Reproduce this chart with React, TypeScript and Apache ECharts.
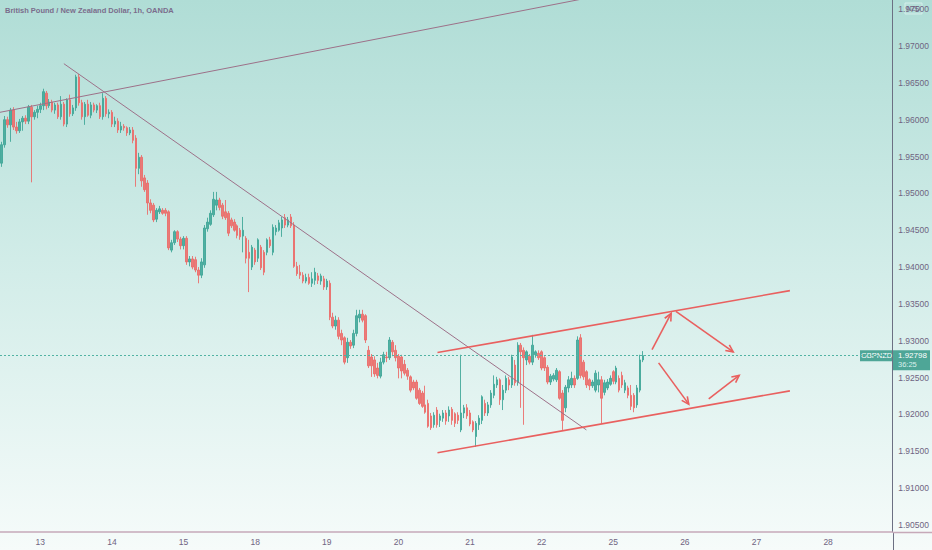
import React, { useEffect, useRef } from "react";
import * as echarts from "echarts";

// ---- axis / categories ----
const DAYS = ["12", "13", "14", "15", "18", "19", "20", "21", "22", "25", "26", "27", "28", "29"];
const FIRST_HOUR = 11; // first candle: day 12, 11:00
const SLOT_COUNT = 299; // hourly slots shown on the time axis (incl. empty future space)

// ---- price scale ----
const Y_MIN = 1.90405;
const Y_MAX = 1.97624;
const TICK_STEP = 0.005;

// ---- quote ----
const TITLE = "British Pound / New Zealand Dollar, 1h, OANDA";
const SYMBOL = "GBPNZD";
const QUOTE_CCY = "NZD";
const LAST_PRICE = 1.92798;
const COUNTDOWN = "36:25";

// ---- hourly candles: [open, close, low, high] ----
const CANDLES_12 = [
  [1.9541, 1.9566, 1.9536, 1.957], [1.9566, 1.96, 1.9562, 1.9605], [1.96, 1.9593, 1.9589, 1.9604],
  [1.9593, 1.9613, 1.957, 1.9616], [1.9613, 1.959, 1.9586, 1.9617], [1.959, 1.9585, 1.9581, 1.9597],
  [1.9585, 1.9597, 1.9582, 1.9601], [1.9597, 1.9602, 1.9585, 1.9605], [1.9602, 1.9598, 1.9594, 1.9606],
  [1.9598, 1.9617, 1.9594, 1.962], [1.9617, 1.9604, 1.9515, 1.962], [1.9604, 1.961, 1.96, 1.9613],
  [1.961, 1.9614, 1.9602, 1.9619],
];
const CANDLES_13 = [
  [1.9614, 1.9619, 1.9609, 1.9623], [1.9619, 1.9638, 1.9613, 1.9642], [1.9636, 1.9619, 1.9614, 1.9639],
  [1.9619, 1.9624, 1.9616, 1.9628], [1.9624, 1.9613, 1.961, 1.9627], [1.9613, 1.962, 1.9608, 1.9623],
  [1.962, 1.9604, 1.9601, 1.9623], [1.9604, 1.9621, 1.96, 1.9632], [1.9621, 1.9594, 1.9591, 1.9624],
  [1.9594, 1.9627, 1.959, 1.9629], [1.9627, 1.9608, 1.9604, 1.9634], [1.9608, 1.9616, 1.9605, 1.962],
  [1.9616, 1.9658, 1.9612, 1.9661], [1.9658, 1.9623, 1.9619, 1.9662], [1.9623, 1.9604, 1.96, 1.9627],
  [1.9604, 1.9621, 1.9593, 1.9624], [1.9621, 1.9606, 1.9604, 1.9627], [1.9606, 1.962, 1.9602, 1.9624],
  [1.962, 1.9613, 1.961, 1.9623], [1.9613, 1.9619, 1.9609, 1.9621], [1.9619, 1.9604, 1.9601, 1.9623],
  [1.9604, 1.9629, 1.96, 1.9636], [1.9629, 1.9608, 1.9604, 1.9632], [1.9608, 1.961, 1.9602, 1.9614],
];
const CANDLES_14 = [
  [1.961, 1.9594, 1.959, 1.9613], [1.9594, 1.9598, 1.959, 1.9604], [1.9598, 1.9586, 1.9582, 1.9602],
  [1.9586, 1.9591, 1.9582, 1.9597], [1.9591, 1.9589, 1.9585, 1.9594], [1.9589, 1.9582, 1.9578, 1.9591],
  [1.9582, 1.9586, 1.9579, 1.959], [1.9586, 1.9572, 1.9568, 1.959], [1.9575, 1.9534, 1.9509, 1.9579],
  [1.9534, 1.9549, 1.9526, 1.9555], [1.9549, 1.9517, 1.9509, 1.9552], [1.9521, 1.9505, 1.9502, 1.9525],
  [1.9514, 1.9487, 1.9471, 1.9518], [1.9487, 1.9477, 1.9473, 1.9492], [1.9484, 1.9464, 1.9461, 1.9487],
  [1.9465, 1.9477, 1.9461, 1.948], [1.9475, 1.9479, 1.9472, 1.9483], [1.9477, 1.9473, 1.9471, 1.948],
  [1.9477, 1.9473, 1.9469, 1.948], [1.9475, 1.9426, 1.9423, 1.9477], [1.9423, 1.9433, 1.942, 1.9437],
  [1.9433, 1.9448, 1.943, 1.945], [1.9448, 1.9438, 1.9434, 1.945], [1.9438, 1.9429, 1.9424, 1.9441],
];
const CANDLES_15 = [
  [1.9429, 1.9439, 1.9424, 1.9442], [1.9439, 1.9407, 1.9403, 1.9442], [1.9407, 1.9411, 1.9401, 1.9415],
  [1.9411, 1.94, 1.9397, 1.9415], [1.941, 1.9396, 1.9393, 1.9414], [1.9396, 1.9389, 1.9378, 1.94],
  [1.9389, 1.9407, 1.9385, 1.9412], [1.9403, 1.9453, 1.9399, 1.9457], [1.9452, 1.9461, 1.9448, 1.9467],
  [1.9458, 1.9473, 1.9456, 1.9477], [1.9471, 1.9492, 1.9468, 1.9502], [1.9484, 1.9491, 1.9477, 1.9502],
  [1.9491, 1.9481, 1.9477, 1.9494], [1.9484, 1.9469, 1.9465, 1.9487], [1.9475, 1.9467, 1.9464, 1.9491],
  [1.9473, 1.9446, 1.9442, 1.9476], [1.9464, 1.9456, 1.9453, 1.9467], [1.9461, 1.945, 1.9448, 1.9465],
  [1.9456, 1.9443, 1.9439, 1.9458], [1.945, 1.9441, 1.9437, 1.9453], [1.9442, 1.945, 1.942, 1.9468],
  [1.9439, 1.9412, 1.9405, 1.9442], [1.942, 1.9412, 1.9366, 1.9437], [1.94, 1.9427, 1.9396, 1.943],
];
const CANDLES_18 = [
  [1.9423, 1.9407, 1.9403, 1.9426], [1.9412, 1.9437, 1.9407, 1.9439], [1.9427, 1.9399, 1.9396, 1.943],
  [1.942, 1.9393, 1.9389, 1.9423], [1.942, 1.9437, 1.9416, 1.9439], [1.9437, 1.9429, 1.9426, 1.9441],
  [1.942, 1.9454, 1.9416, 1.9458], [1.9448, 1.9453, 1.9443, 1.9457], [1.945, 1.946, 1.9448, 1.9464],
  [1.9453, 1.9464, 1.9441, 1.9468], [1.9467, 1.9457, 1.9453, 1.9472], [1.9457, 1.9464, 1.9454, 1.9468],
  [1.9468, 1.9456, 1.9453, 1.9472], [1.9457, 1.9401, 1.9399, 1.9461], [1.9401, 1.9391, 1.9388, 1.9407],
  [1.9393, 1.9389, 1.9384, 1.9403], [1.9389, 1.9381, 1.9378, 1.9393], [1.9381, 1.9386, 1.9378, 1.9391],
  [1.9386, 1.9378, 1.9376, 1.9391], [1.9378, 1.9384, 1.9373, 1.9393], [1.9382, 1.9393, 1.9376, 1.9399],
  [1.9388, 1.9382, 1.9377, 1.9392], [1.9381, 1.9388, 1.9376, 1.9391], [1.9384, 1.9373, 1.9369, 1.9388],
];
const CANDLES_19 = [
  [1.9373, 1.9381, 1.9369, 1.9384], [1.9378, 1.9332, 1.9328, 1.9382], [1.9332, 1.932, 1.9317, 1.9338],
  [1.932, 1.9328, 1.9315, 1.9334], [1.9328, 1.9306, 1.9302, 1.9332], [1.931, 1.9301, 1.9294, 1.9315],
  [1.9304, 1.9271, 1.9268, 1.9306], [1.9277, 1.9298, 1.927, 1.9304], [1.9298, 1.9293, 1.9289, 1.9301],
  [1.9294, 1.931, 1.929, 1.9315], [1.931, 1.9334, 1.9306, 1.9342], [1.9331, 1.9336, 1.9325, 1.9342],
  [1.9336, 1.9328, 1.9325, 1.9342], [1.9334, 1.9301, 1.9297, 1.9336], [1.9287, 1.9266, 1.9263, 1.9293],
  [1.9278, 1.9266, 1.9251, 1.9282], [1.9274, 1.9255, 1.9251, 1.9279], [1.9263, 1.9253, 1.9249, 1.927],
  [1.9252, 1.9271, 1.9249, 1.9277], [1.9271, 1.9281, 1.9268, 1.9285], [1.9278, 1.9277, 1.9271, 1.9285],
  [1.9277, 1.9301, 1.9274, 1.9305], [1.9298, 1.9285, 1.9279, 1.9301], [1.9287, 1.9277, 1.9272, 1.9294],
];
const CANDLES_20 = [
  [1.9279, 1.9263, 1.9249, 1.9282], [1.9278, 1.9259, 1.9249, 1.9281], [1.9268, 1.9256, 1.9253, 1.9274],
  [1.926, 1.9252, 1.9247, 1.9263], [1.9251, 1.9233, 1.923, 1.9253], [1.9244, 1.9236, 1.9233, 1.9247],
  [1.9244, 1.9222, 1.922, 1.9247], [1.9233, 1.9215, 1.9213, 1.9236], [1.9229, 1.9211, 1.9209, 1.9232],
  [1.9213, 1.9203, 1.9201, 1.9239], [1.9215, 1.9184, 1.9182, 1.922], [1.9198, 1.9182, 1.9179, 1.9202],
  [1.9186, 1.9199, 1.9182, 1.9203], [1.9206, 1.9186, 1.9182, 1.921], [1.9192, 1.9198, 1.9183, 1.9201],
  [1.9195, 1.9202, 1.919, 1.9206], [1.9202, 1.9191, 1.9186, 1.9206], [1.9198, 1.9206, 1.919, 1.9211],
  [1.9207, 1.9192, 1.9186, 1.921], [1.9201, 1.9188, 1.9183, 1.9203], [1.9199, 1.9192, 1.9187, 1.9203],
  [1.9179, 1.9202, 1.9176, 1.9281], [1.9202, 1.9209, 1.9195, 1.9213], [1.9209, 1.9198, 1.9194, 1.9214],
];
const CANDLES_21 = [
  [1.9202, 1.9187, 1.9184, 1.9206], [1.919, 1.9179, 1.9176, 1.9192], [1.917, 1.9188, 1.9156, 1.9191],
  [1.9186, 1.9195, 1.9179, 1.9199], [1.9192, 1.9224, 1.9187, 1.9226], [1.9215, 1.9202, 1.9198, 1.922],
  [1.9202, 1.9213, 1.9198, 1.9217], [1.9213, 1.9229, 1.9209, 1.9233], [1.9226, 1.9241, 1.9222, 1.9253],
  [1.924, 1.9247, 1.9236, 1.9251], [1.9247, 1.922, 1.9213, 1.9249], [1.922, 1.9233, 1.9206, 1.924],
  [1.9233, 1.9249, 1.9229, 1.9253], [1.9247, 1.924, 1.9233, 1.9251], [1.924, 1.9278, 1.9236, 1.9281],
  [1.9267, 1.9243, 1.9239, 1.9274], [1.9243, 1.9294, 1.9239, 1.9298], [1.9294, 1.9285, 1.9209, 1.9297],
  [1.9287, 1.9277, 1.9186, 1.9291], [1.9274, 1.9285, 1.9267, 1.9287], [1.9279, 1.9271, 1.9268, 1.9282],
  [1.9271, 1.9294, 1.9267, 1.9308], [1.9281, 1.9285, 1.9277, 1.9287], [1.9283, 1.9277, 1.9274, 1.9287],
];
const CANDLES_22 = [
  [1.9285, 1.9263, 1.926, 1.9287], [1.9277, 1.9263, 1.9259, 1.9279], [1.9264, 1.9244, 1.9241, 1.9267],
  [1.9244, 1.9252, 1.924, 1.9255], [1.9248, 1.9253, 1.9245, 1.9256], [1.9247, 1.926, 1.9244, 1.9263],
  [1.9258, 1.9222, 1.922, 1.926], [1.9229, 1.9192, 1.9179, 1.9233], [1.9209, 1.9237, 1.9203, 1.924],
  [1.9236, 1.9247, 1.923, 1.9252], [1.924, 1.9249, 1.9236, 1.9258], [1.9249, 1.924, 1.9236, 1.9253],
  [1.9249, 1.9301, 1.9247, 1.9306], [1.9304, 1.9253, 1.9249, 1.9309], [1.9271, 1.9251, 1.9247, 1.9274],
  [1.9258, 1.924, 1.9236, 1.926], [1.9247, 1.9239, 1.9233, 1.9249], [1.9239, 1.9244, 1.9236, 1.9247],
  [1.9233, 1.9256, 1.923, 1.926], [1.924, 1.9247, 1.923, 1.9258], [1.9247, 1.9222, 1.9188, 1.9252],
  [1.923, 1.9243, 1.9226, 1.9247], [1.9236, 1.9244, 1.9233, 1.9248], [1.9241, 1.9249, 1.9239, 1.9253],
];
const CANDLES_25 = [
  [1.9258, 1.9245, 1.9241, 1.926], [1.9244, 1.9263, 1.9241, 1.9266], [1.9249, 1.9233, 1.923, 1.9253],
  [1.9253, 1.924, 1.9236, 1.9258], [1.9233, 1.9243, 1.9229, 1.9247], [1.9236, 1.9226, 1.9222, 1.9239],
  [1.9226, 1.9211, 1.9206, 1.924], [1.9226, 1.9209, 1.9203, 1.9229], [1.9213, 1.9236, 1.9209, 1.924],
  [1.9233, 1.9274, 1.923, 1.9281], [1.9274, 1.92798, 1.9271, 1.9286],
];

// ---- drawn annotations: [x1 (hour slot), price1, x2 (hour slot), price2, kind] ----
// kind 0: thin trend line, 1: red channel line, 2: red arrow
const TREND_LINES = [
  [-0.5, 1.961, 200, 1.9768, 0],
  [20.9, 1.9676, 196.0, 1.9179, 0],
];
const CHANNEL_LINES = [
  [146.1, 1.9284, 264.2, 1.9368, 1],
  [146.1, 1.9148, 264.2, 1.9232, 1],
];
const ARROWS = [
  [218.0, 1.9288, 224.4, 1.9337, 2],
  [226.0, 1.934, 245.2, 1.9285, 2],
  [220.2, 1.927, 230.3, 1.9214, 2],
  [237.0, 1.9221, 247.2, 1.9253, 2],
];

const UP = "#3fa697";
const DOWN = "#ec6b69";
const TREND = "#9d7189";
const RED = "#e9605f";
const TEXT = "#6f6481";
const FONT = "'Liberation Sans', Arial, sans-serif";

const W = 932;
const H = 550;
const GRID_RIGHT = 39;
const GRID_BOTTOM = 18;

function buildCategories(): string[] {
  const out: string[] = [];
  for (let i = 0; i < SLOT_COUNT; i++) {
    const h = FIRST_HOUR + i;
    const day = DAYS[Math.floor(h / 24)];
    const hh = h % 24;
    out.push(`${day} ${hh < 10 ? "0" + hh : hh}:00`);
  }
  return out;
}

export default function App() {
  const ref = useRef<HTMLDivElement>(null);

  useEffect(() => {
    if (!ref.current) return;
    document.body.style.margin = "0";
    const chart = echarts.init(ref.current, null, { renderer: "svg", width: W, height: H });
    const categories = buildCategories();
    const candles = [
      ...CANDLES_12, ...CANDLES_13, ...CANDLES_14, ...CANDLES_15, ...CANDLES_18,
      ...CANDLES_19, ...CANDLES_20, ...CANDLES_21, ...CANDLES_22, ...CANDLES_25,
    ];
    const annotations = [...TREND_LINES, ...CHANNEL_LINES, ...ARROWS];
    const plotRight = W - GRID_RIGHT;
    const plotBottom = H - GRID_BOTTOM;

    chart.setOption({
      animation: false,
      backgroundColor: "transparent",
      grid: { left: 0, right: GRID_RIGHT, top: 0, bottom: GRID_BOTTOM, containLabel: false },
      xAxis: [
        {
          type: "category",
          data: categories,
          boundaryGap: true,
          axisLine: { show: true, onZero: false, lineStyle: { color: "#c6a9b9", width: 1.5 } },
          axisTick: { show: false },
          splitLine: { show: false },
          axisLabel: {
            interval: (_i: number, v: string) => v.endsWith(" 00:00"),
            formatter: (v: string) => v.split(" ")[0],
            color: TEXT,
            fontSize: 8.5,
            fontFamily: FONT,
            margin: 5,
          },
        },
        { type: "value", min: -0.5, max: SLOT_COUNT - 0.5, show: false },
      ],
      yAxis: {
        type: "value",
        position: "right",
        min: Y_MIN,
        max: Y_MAX,
        minInterval: TICK_STEP,
        maxInterval: TICK_STEP,
        splitNumber: 14,
        scale: true,
        axisLine: { show: true, onZero: false, lineStyle: { color: "#6c7083", width: 1 } },
        axisTick: { show: false },
        splitLine: { show: false },
        axisLabel: {
          showMinLabel: false,
          showMaxLabel: false,
          formatter: (v: number) => v.toFixed(5),
          color: TEXT,
          fontSize: 8.5,
          fontFamily: FONT,
          margin: 6,
        },
      },
      series: [
        {
          type: "candlestick",
          xAxisIndex: 0,
          yAxisIndex: 0,
          data: candles,
          barWidth: 2,
          itemStyle: {
            color: UP,
            color0: DOWN,
            borderColor: UP,
            borderColor0: DOWN,
            borderWidth: 1,
            opacity: 0.88,
          },
          markLine: {
            silent: true,
            symbol: "none",
            precision: 5,
            label: { show: false },
            lineStyle: { color: "#52b3a3", type: [2, 2], width: 1 },
            data: [{ yAxis: LAST_PRICE }],
          },
          z: 3,
        },
        {
          type: "custom",
          xAxisIndex: 1,
          yAxisIndex: 0,
          clip: true,
          data: annotations,
          z: 5,
          renderItem: (_p: any, api: any) => {
            const p1 = api.coord([api.value(0), api.value(1)]);
            const p2 = api.coord([api.value(2), api.value(3)]);
            const kind = api.value(4);
            const color = kind === 0 ? TREND : RED;
            const lw = kind === 0 ? 1 : 1.6;
            const children: any[] = [
              {
                type: "line",
                shape: { x1: p1[0], y1: p1[1], x2: p2[0], y2: p2[1] },
                style: { stroke: color, lineWidth: lw },
              },
            ];
            if (kind === 2) {
              const ang = Math.atan2(p2[1] - p1[1], p2[0] - p1[0]);
              const L = 8;
              const a = Math.PI / 7;
              children.push({
                type: "polyline",
                shape: {
                  points: [
                    [p2[0] - L * Math.cos(ang - a), p2[1] - L * Math.sin(ang - a)],
                    [p2[0], p2[1]],
                    [p2[0] - L * Math.cos(ang + a), p2[1] - L * Math.sin(ang + a)],
                  ],
                },
                style: { stroke: color, fill: "none", lineWidth: lw },
              });
            }
            return { type: "group", children };
          },
        },
      ],
    });

    const yLast = chart.convertToPixel({ yAxisIndex: 0 }, LAST_PRICE) as number;

    chart.setOption({
      graphic: [
        {
          type: "text",
          left: 5,
          top: 6,
          z: 100,
          style: { text: TITLE, fill: "#7b6d8c", font: `bold 7.5px ${FONT}` },
        },
        {
          type: "line",
          z: 100,
          shape: { x1: plotRight + 0.5, y1: plotBottom, x2: plotRight + 0.5, y2: H },
          style: { stroke: "#6c7083", lineWidth: 1 },
        },
        {
          type: "line",
          z: 100,
          shape: { x1: plotRight, y1: plotBottom + 0.5, x2: W, y2: plotBottom + 0.5 },
          style: { stroke: "#c6a9b9", lineWidth: 1.5 },
        },
        {
          type: "group",
          x: plotRight + 12,
          y: 3,
          z: 100,
          children: [
            { type: "rect", shape: { x: 0, y: 0, width: 17, height: 11 }, style: { fill: "#b6e0da", stroke: "#d4eeea", lineWidth: 1 } },
            { type: "text", x: 8.5, y: 5.5, style: { text: QUOTE_CCY, fill: TEXT, font: `6.5px ${FONT}`, align: "center", verticalAlign: "middle" } },
          ],
        },
        {
          type: "group",
          x: plotRight - 33,
          y: yLast - 5.5,
          z: 100,
          children: [
            { type: "rect", shape: { x: 0, y: 0, width: 33, height: 11 }, style: { fill: "#4ea697" } },
            { type: "text", x: 16.5, y: 5.5, style: { text: SYMBOL, fill: "#ffffff", font: `7.5px ${FONT}`, align: "center", verticalAlign: "middle" } },
          ],
        },
        {
          type: "group",
          x: plotRight,
          y: yLast - 5.5,
          z: 100,
          children: [
            { type: "rect", shape: { x: 0, y: 0, width: 37, height: 20 }, style: { fill: "#4ea697" } },
            { type: "text", x: 5, y: 5, style: { text: LAST_PRICE.toFixed(5), fill: "#ffffff", font: `8px ${FONT}`, verticalAlign: "middle" } },
            { type: "text", x: 5, y: 14.5, style: { text: COUNTDOWN, fill: "#d9f0ec", font: `7.5px ${FONT}`, verticalAlign: "middle" } },
          ],
        },
      ],
    });

    return () => chart.dispose();
  }, []);

  return (
    <div
      ref={ref}
      style={{
        position: "absolute",
        left: 0,
        top: 0,
        width: W,
        height: H,
        background: "linear-gradient(180deg, #b0ddd6 0%, #d3ede9 50%, #f6fbfa 100%)",
      }}
    />
  );
}
